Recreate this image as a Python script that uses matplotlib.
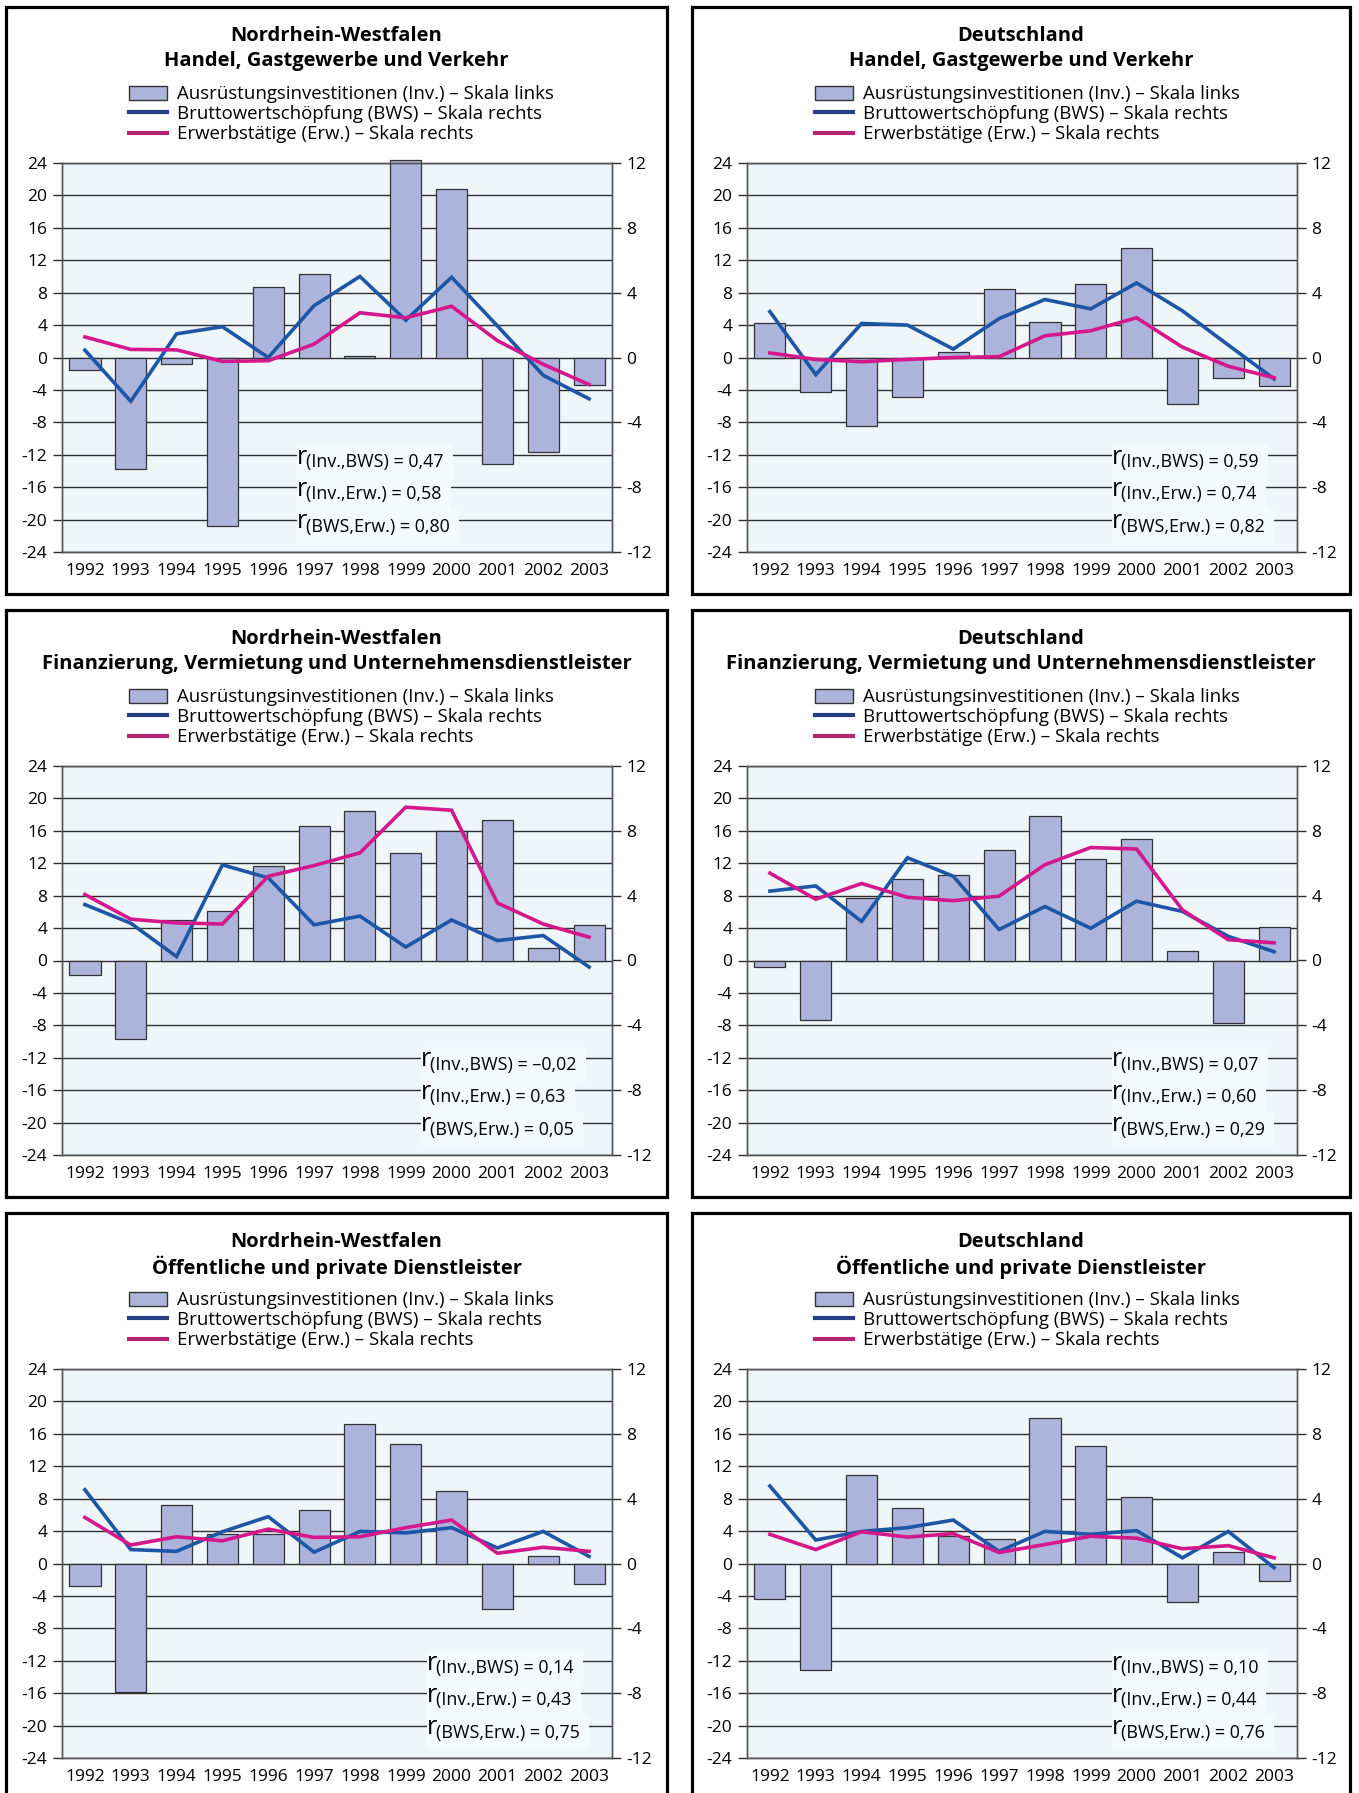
import matplotlib
matplotlib.use('Agg')
import matplotlib.pyplot as plt
from matplotlib.patches import Patch, Rectangle
from matplotlib.lines import Line2D

plt.rcParams['font.family'] = ['Open Sans', 'DejaVu Sans']
plt.rcParams['axes.unicode_minus'] = False

years = ['1992', '1993', '1994', '1995', '1996', '1997',
         '1998', '1999', '2000', '2001', '2002', '2003']

# Handel, Gastgewerbe und Verkehr
nrw_handel_inv = [-1.6, -13.8, -0.8, -20.8, 8.7, 10.3, 0.2, 24.4, 20.8, -13.1, -11.7, -3.4]
nrw_handel_bws = [0.45, -2.7, 1.46, 1.9, 0.0, 3.2, 5.0, 2.3, 4.95, 1.95, -1.1, -2.55]
nrw_handel_erw = [1.27, 0.5, 0.47, -0.24, -0.2, 0.83, 2.76, 2.45, 3.16, 1.04, -0.42, -1.67]
de_handel_inv = [4.2, -4.25, -8.5, -4.9, 0.66, 8.5, 4.43, 9.1, 13.5, -5.75, -2.5, -3.5]
de_handel_bws = [2.83, -1.06, 2.1, 2.0, 0.52, 2.4, 3.58, 3.0, 4.6, 2.88, 0.77, -1.32]
de_handel_erw = [0.28, -0.12, -0.26, -0.12, 0.0, 0.05, 1.34, 1.65, 2.45, 0.64, -0.54, -1.25]

# Finanzierung, Vermietung und Unternehmensdienstleister
nrw_fin_inv = [-1.84, -9.7, 4.96, 6.05, 11.6, 16.6, 18.5, 13.3, 16.0, 17.35, 1.5, 4.35]
nrw_fin_bws = [3.45, 2.3, 0.24, 5.9, 5.1, 2.2, 2.74, 0.83, 2.5, 1.23, 1.54, -0.4]
nrw_fin_erw = [4.07, 2.55, 2.32, 2.25, 5.2, 5.86, 6.64, 9.46, 9.27, 3.55, 2.25, 1.44]
de_fin_inv = [-0.85, -7.4, 7.7, 10.07, 10.6, 13.6, 17.8, 12.5, 15.0, 1.18, -7.7, 4.16]
de_fin_bws = [4.28, 4.6, 2.41, 6.34, 5.2, 1.91, 3.33, 1.99, 3.66, 3.03, 1.49, 0.54]
de_fin_erw = [5.39, 3.78, 4.75, 3.9, 3.69, 3.97, 5.91, 6.97, 6.88, 3.12, 1.28, 1.09]

# Öffentliche und private Dienstleister
nrw_oeff_inv = [-2.75, -15.9, 7.2, 3.7, 3.7, 6.6, 17.2, 14.7, 9.0, -5.6, 0.93, -2.5]
nrw_oeff_bws = [4.55, 0.86, 0.75, 1.96, 2.89, 0.7, 1.98, 1.89, 2.21, 0.96, 1.98, 0.44]
nrw_oeff_erw = [2.84, 1.14, 1.65, 1.4, 2.12, 1.61, 1.65, 2.21, 2.68, 0.63, 1.0, 0.75]
de_oeff_inv = [-4.34, -13.2, 10.95, 6.8, 3.4, 3.08, 17.95, 14.45, 8.25, -4.8, 1.4, -2.1]
de_oeff_bws = [4.78, 1.45, 1.98, 2.21, 2.68, 0.75, 1.98, 1.8, 2.03, 0.35, 1.98, -0.26]
de_oeff_erw = [1.8, 0.86, 1.96, 1.63, 1.84, 0.68, 1.17, 1.68, 1.56, 0.91, 1.1, 0.35]

regions = ['Nordrhein-Westfalen', 'Deutschland']
sectors = ['Handel, Gastgewerbe und Verkehr',
           'Finanzierung, Vermietung und Unternehmensdienstleister',
           'Öffentliche und private Dienstleister']

corr_pairs = ['(Inv.,BWS)', '(Inv.,Erw.)', '(BWS,Erw.)']
corr_nrw_handel = ['0,47', '0,58', '0,80']
corr_de_handel = ['0,59', '0,74', '0,82']
corr_nrw_fin = ['–0,02', '0,63', '0,05']
corr_de_fin = ['0,07', '0,60', '0,29']
corr_nrw_oeff = ['0,14', '0,43', '0,75']
corr_de_oeff = ['0,10', '0,44', '0,76']

legend_labels = ['Ausrüstungsinvestitionen (Inv.) – Skala links',
                 'Bruttowertschöpfung (BWS) – Skala rechts',
                 'Erwerbstätige (Erw.) – Skala rechts']

BG = '#eef6fa'
BOX = '#f4f9fc'
BAR = '#acb4dc'
EDGE = '#333333'
BLUE = '#1d56a6'
PINK = '#d4178b'
GRID = '#2e2e2e'

W, H = 1359, 1793
fig = plt.figure(figsize=(W / 100, H / 100), dpi=100)


def rect(x0, y0, x1, y1):
    return [x0 / W, 1 - y1 / H, (x1 - x0) / W, (y1 - y0) / H]


def panel(frame, plot, region, sector, inv, bws, erw, corr, corr_x):
    fx0, fy0, fx1, fy1 = frame
    px0, py0, px1, py1 = plot

    fig.add_artist(Rectangle((fx0 / W, 1 - fy1 / H), (fx1 - fx0) / W, (fy1 - fy0) / H,
                             transform=fig.transFigure, fill=False,
                             edgecolor='black', lw=2.3, zorder=10))
    cx = (fx0 + fx1) / 2 / W
    fig.text(cx, 1 - (fy0 + 29) / H, region, ha='center', va='center',
             fontsize=14.5, fontweight='bold')
    fig.text(cx, 1 - (fy0 + 54) / H, sector, ha='center', va='center',
             fontsize=14.5, fontweight='bold')

    handles = [Patch(facecolor=BAR, edgecolor=EDGE, lw=1),
               Line2D([], [], color='#253f86', lw=3),
               Line2D([], [], color='#b3266f', lw=3)]
    fig.legend(handles, legend_labels, loc='upper left',
               bbox_to_anchor=((fx0 + 123) / W, 1 - (fy0 + 78) / H),
               frameon=False, fontsize=13.4, handlelength=2.05, handleheight=0.78,
               handletextpad=0.55, labelspacing=0.12, borderpad=0, borderaxespad=0)

    ax = fig.add_axes(rect(px0, py0, px1, py1))
    x = range(len(years))
    ax.set_facecolor(BG)
    ax.set_axisbelow(True)
    ax.bar(x, inv, width=0.68, color=BAR, edgecolor=EDGE, lw=0.9, zorder=2,
           clip_on=False)
    ax.set_xlim(-0.5, len(years) - 0.5)
    ax.set_ylim(-24, 24)
    lt = list(range(-24, 25, 4))
    ax.set_yticks(lt, [str(v) for v in lt])
    ax.yaxis.grid(True, color=GRID, lw=1)
    ax.set_xticks(list(x), years)
    ax.tick_params(axis='x', length=0, pad=8, labelsize=12.5)
    ax.tick_params(axis='y', direction='out', length=6.5, width=1,
                   color=GRID, pad=4, labelsize=12.5)
    for s in ax.spines.values():
        s.set_color('#555555')
        s.set_linewidth(1)

    ax2 = ax.twinx()
    ax2.plot(x, bws, color=BLUE, lw=2.6, solid_joinstyle='miter')
    ax2.plot(x, erw, color=PINK, lw=2.6, solid_joinstyle='miter')
    ax2.set_ylim(-12, 12)
    rt = list(range(-12, 13, 4))
    ax2.set_yticks(rt, [str(v) for v in rt])
    ax2.tick_params(axis='y', direction='out', length=6.5, width=1,
                    color=GRID, pad=4, labelsize=12.5)
    for s in ax2.spines.values():
        s.set_color('#555555')
        s.set_linewidth(1)

    # correlation block: big "r" with the rest set lower, on a pale box
    xf = (corr_x - px0) / (px1 - px0)
    tr = ax.get_yaxis_transform()
    for i, (pair, val) in enumerate(zip(corr_pairs, corr)):
        yv = -12 - 4 * i
        ax.annotate(f'{pair} = {val}', xy=(xf, yv), xycoords=tr,
                    xytext=(6.6, -8.6), textcoords='offset points',
                    fontsize=12.9, va='baseline', ha='left', zorder=5 - 0.1 * i,
                    bbox=dict(boxstyle='square,pad=0.5', fc=BOX, ec='none'))
        ax.annotate('r', xy=(xf, yv), xycoords=tr, xytext=(0, -6.3),
                    textcoords='offset points', fontsize=18, va='baseline',
                    ha='left', zorder=6)


cols = [(6, 667, 62, 612), (692, 1350, 747, 1297)]
data = [
    [(nrw_handel_inv, nrw_handel_bws, nrw_handel_erw, corr_nrw_handel, 297),
     (de_handel_inv, de_handel_bws, de_handel_erw, corr_de_handel, 1112)],
    [(nrw_fin_inv, nrw_fin_bws, nrw_fin_erw, corr_nrw_fin, 421),
     (de_fin_inv, de_fin_bws, de_fin_erw, corr_de_fin, 1112)],
    [(nrw_oeff_inv, nrw_oeff_bws, nrw_oeff_erw, corr_nrw_oeff, 427),
     (de_oeff_inv, de_oeff_bws, de_oeff_erw, corr_de_oeff, 1112)],
]

for r, sector in enumerate(sectors):
    dy = 603 * r
    for c, region in enumerate(regions):
        fx0, fx1, px0, px1 = cols[c]
        inv, bws, erw, corr, cxp = data[r][c]
        panel((fx0, 7 + dy, fx1, 594 + dy), (px0, 163 + dy, px1, 552 + dy),
              region, sector, inv, bws, erw, corr, cxp)

fig.savefig('out.png', dpi=100, facecolor='white')
